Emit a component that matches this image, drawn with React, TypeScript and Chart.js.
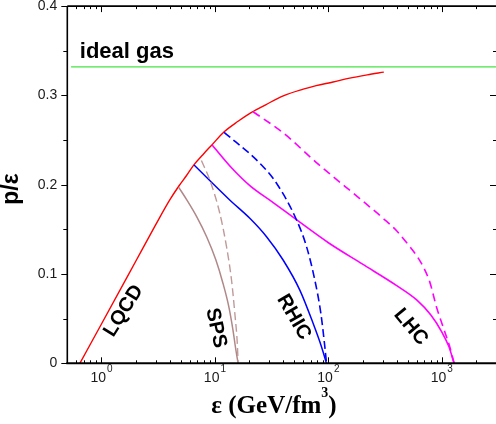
import React, { useEffect, useRef } from "react";
import { Chart, registerables } from "chart.js";

Chart.register(...registerables);

// ---- data (epsilon in GeV/fm^3, p/epsilon) ----
const lqcdX = [0.645, 1, 2, 3, 4, 4.78, 5.6, 6.5, 8, 9.4, 12, 16, 21, 28, 40, 60, 78, 110, 150, 220, 308];
const lqcdY = [0, 0.044, 0.114, 0.155, 0.183, 0.198, 0.21, 0.222, 0.235, 0.2445, 0.259, 0.271, 0.281, 0.2895, 0.2995, 0.307, 0.311, 0.315, 0.319, 0.323, 0.326];

const spsSolidX = [4.8, 5.65, 6.92, 8.47, 10.2, 11.75, 13.25, 14.4, 15.3, 16.0];
const spsSolidY = [0.197, 0.183, 0.164, 0.1414, 0.1156, 0.09, 0.0635, 0.0377, 0.0149, 0];

const spsDashX = [7.6, 9.01, 11.04, 12.65, 14.0, 14.97, 15.8, 16.0];
const spsDashY = [0.227, 0.2053, 0.168, 0.1306, 0.0933, 0.056, 0.0186, 0];

const rhicSolidX = [6.55, 13.5, 20.3, 28.5, 39.9, 56, 73.3, 86.9, 96.2];
const rhicSolidY = [0.222, 0.1829, 0.1624, 0.1418, 0.1157, 0.082, 0.0448, 0.0186, 0];

const rhicDashX = [12.05, 24.9, 34.9, 52.4, 64.2, 75.9, 85.8, 93, 96.2];
const rhicDashY = [0.2587, 0.224, 0.2016, 0.1605, 0.1306, 0.0933, 0.056, 0.0186, 0];

const lhcSolidX = [9.45, 14, 20.3, 32.6, 56, 100, 200, 400, 600, 800, 1000, 1150, 1282];
const lhcSolidY = [0.2445, 0.219, 0.199, 0.18, 0.158, 0.135, 0.111, 0.087, 0.071, 0.054, 0.035, 0.019, 0];

const lhcDashX = [21.7, 40, 78, 103, 189, 302, 401, 501, 602, 693, 783, 902, 1019, 1175, 1282];
const lhcDashY = [0.2817, 0.258, 0.225, 0.212, 0.1845, 0.1626, 0.1481, 0.1335, 0.1202, 0.1068, 0.0909, 0.0619, 0.0417, 0.0182, 0];

const idealGasX = [0.54, 3000];
const idealGasY = [0.332, 0.332];

const yTickValues = [0, 0.1, 0.2, 0.3, 0.4];
const yTickLabels = ["0", "0.1", "0.2", "0.3", "0.4"];
const xTickValues = [1, 10, 100, 1000];
const xTickExponents = ["0", "1", "2", "3"];

const curveLabels = ["LQCD", "SPS", "RHIC", "LHC"];
const curveLabelX = [1.57, 10.2, 49.6, 532];
const curveLabelY = [0.0586, 0.0395, 0.0518, 0.0406];

const SANS = '"Liberation Sans", Arial, Helvetica, sans-serif';
const SERIF = '"Liberation Serif", "Times New Roman", serif';
const labelAngles = [-58, 78, 60, 50];

const pts = (xs: number[], ys: number[]) => xs.map((x, i) => ({ x, y: ys[i] }));

const decorPlugin = {
  id: "decor",
  afterDatasetsDraw(chart: any) {
    const { ctx, chartArea: a, scales } = chart;
    const xs = scales.x;
    const ys = scales.y;
    ctx.save();
    ctx.strokeStyle = "#000";
    ctx.fillStyle = "#000";

    // y ticks (left outward, right inward)
    ctx.lineWidth = 1;
    for (let i = 0; i <= 8; i++) {
      const y = Math.round(ys.getPixelForValue(i * 0.05)) + 0.5;
      const major = i % 2 === 0;
      ctx.beginPath();
      ctx.moveTo(a.left - (major ? 6 : 4), y);
      ctx.lineTo(a.left, y);
      ctx.moveTo(a.right, y);
      ctx.lineTo(a.right - (major ? 6 : 3), y);
      ctx.stroke();
    }
    // x ticks (inward top and bottom)
    for (let k = -1; k <= 3; k++) {
      for (let m = 1; m <= 9; m++) {
        const v = m * Math.pow(10, k);
        if (v < 0.5 || v > 3000) continue;
        const x = Math.round(xs.getPixelForValue(v)) + 0.5;
        const len = m === 1 ? 6 : 3;
        ctx.beginPath();
        ctx.moveTo(x, a.bottom);
        ctx.lineTo(x, a.bottom - len);
        ctx.moveTo(x, a.top);
        ctx.lineTo(x, a.top + len);
        ctx.stroke();
      }
    }
    // frame
    ctx.lineWidth = 1.6;
    ctx.beginPath();
    ctx.moveTo(a.left, a.top);
    ctx.lineTo(a.right, a.top);
    ctx.moveTo(a.left, a.top);
    ctx.lineTo(a.left, a.bottom);
    ctx.stroke();
    ctx.lineWidth = 2;
    ctx.beginPath();
    ctx.moveTo(a.left - 1, a.bottom);
    ctx.lineTo(a.right, a.bottom);
    ctx.stroke();

    // y tick labels
    ctx.fillStyle = "#1a1a1a";
    ctx.font = `14px ${SANS}`;
    ctx.textAlign = "right";
    ctx.textBaseline = "middle";
    yTickValues.forEach((v, i) => {
      ctx.fillText(yTickLabels[i], a.left - 10, ys.getPixelForValue(v));
    });
    // x tick labels 10^n
    ctx.textBaseline = "alphabetic";
    ctx.textAlign = "left";
    xTickValues.forEach((v, i) => {
      const px = xs.getPixelForValue(v);
      ctx.font = `14px ${SANS}`;
      const w1 = ctx.measureText("10").width;
      ctx.font = `10px ${SANS}`;
      const w2 = ctx.measureText(xTickExponents[i]).width;
      const x0 = px - (w1 + w2 + 1) / 2;
      ctx.font = `14px ${SANS}`;
      ctx.fillText("10", x0, a.bottom + 19);
      ctx.font = `10px ${SANS}`;
      ctx.fillText(xTickExponents[i], x0 + w1 + 1, a.bottom + 9);
    });

    // axis titles
    ctx.fillStyle = "#000";
    ctx.save();
    ctx.translate(12, 189);
    ctx.rotate(-Math.PI / 2);
    ctx.font = `bold 23px ${SANS}`;
    ctx.textAlign = "center";
    ctx.textBaseline = "middle";
    ctx.fillText("p/ε", 0, 0);
    ctx.restore();

    const t1 = "ε (GeV/fm";
    const t2 = "3";
    const t3 = ")";
    ctx.font = `bold 25px ${SERIF}`;
    const w1 = ctx.measureText(t1).width;
    const w3 = ctx.measureText(t3).width;
    ctx.font = `bold 14px ${SERIF}`;
    const w2 = ctx.measureText(t2).width;
    let tx = 274 - (w1 + w2 + w3) / 2;
    const base = 413;
    ctx.textAlign = "left";
    ctx.textBaseline = "alphabetic";
    ctx.font = `bold 25px ${SERIF}`;
    ctx.fillText(t1, tx, base);
    tx += w1;
    ctx.font = `bold 14px ${SERIF}`;
    ctx.fillText(t2, tx, base - 16);
    tx += w2;
    ctx.font = `bold 25px ${SERIF}`;
    ctx.fillText(t3, tx, base);

    // ideal gas label
    ctx.font = `bold 22px ${SANS}`;
    ctx.textAlign = "left";
    ctx.fillText("ideal gas", xs.getPixelForValue(0.644), ys.getPixelForValue(0.342));

    // curve labels
    ctx.font = `bold 20px ${SANS}`;
    ctx.textAlign = "center";
    ctx.textBaseline = "middle";
    curveLabels.forEach((t, i) => {
      ctx.save();
      ctx.translate(xs.getPixelForValue(curveLabelX[i]), ys.getPixelForValue(curveLabelY[i]));
      ctx.rotate((labelAngles[i] * Math.PI) / 180);
      ctx.fillText(t, 0, 0);
      ctx.restore();
    });
    ctx.restore();
  },
};

export default function App() {
  const ref = useRef<HTMLCanvasElement | null>(null);
  useEffect(() => {
    if (!ref.current) return;
    const mk = (xs: number[], ys: number[], color: string, width: number, dash: number[] = []) => ({
      data: pts(xs, ys),
      showLine: true,
      borderColor: color,
      backgroundColor: color,
      borderWidth: width,
      borderDash: dash,
      pointRadius: 0,
      cubicInterpolationMode: "monotone" as const,
      fill: false,
    });
    const chart = new Chart(ref.current, {
      type: "scatter",
      data: {
        datasets: [
          mk(idealGasX, idealGasY, "#44e444", 1.2),
          mk(spsDashX, spsDashY, "#c09a9a", 1.4, [8, 4]),
          mk(spsSolidX, spsSolidY, "#b08888", 1.5),
          mk(rhicDashX, rhicDashY, "#0000ff", 1.6, [8, 4]),
          mk(rhicSolidX, rhicSolidY, "#0000ff", 1.5),
          mk(lhcDashX, lhcDashY, "#ff00ff", 1.6, [8, 5]),
          mk(lhcSolidX, lhcSolidY, "#ff00ff", 1.6),
          mk(lqcdX, lqcdY, "#ff0000", 1.4),
        ],
      },
      options: {
        animation: false,
        responsive: false,
        layout: { padding: { top: 6.1, left: 0, right: 0, bottom: 0 } },
        plugins: { legend: { display: false }, tooltip: { enabled: false } },
        scales: {
          x: {
            type: "logarithmic",
            min: 0.5,
            max: 3000,
            grid: { display: false },
            border: { display: false },
            ticks: { display: false },
            afterFit(s: any) {
              s.height = 60.7;
            },
          },
          y: {
            type: "linear",
            min: 0,
            max: 0.4,
            grid: { display: false },
            border: { display: false },
            ticks: { display: false },
            afterFit(s: any) {
              s.width = 67.3;
            },
          },
        },
      },
      plugins: [decorPlugin],
    });
    return () => chart.destroy();
  }, []);
  return (
    <div style={{ position: "fixed", left: 0, top: 0, width: 496, height: 424, background: "#fff" }}>
      <canvas ref={ref} width={496} height={424} style={{ display: "block" }} />
    </div>
  );
}
